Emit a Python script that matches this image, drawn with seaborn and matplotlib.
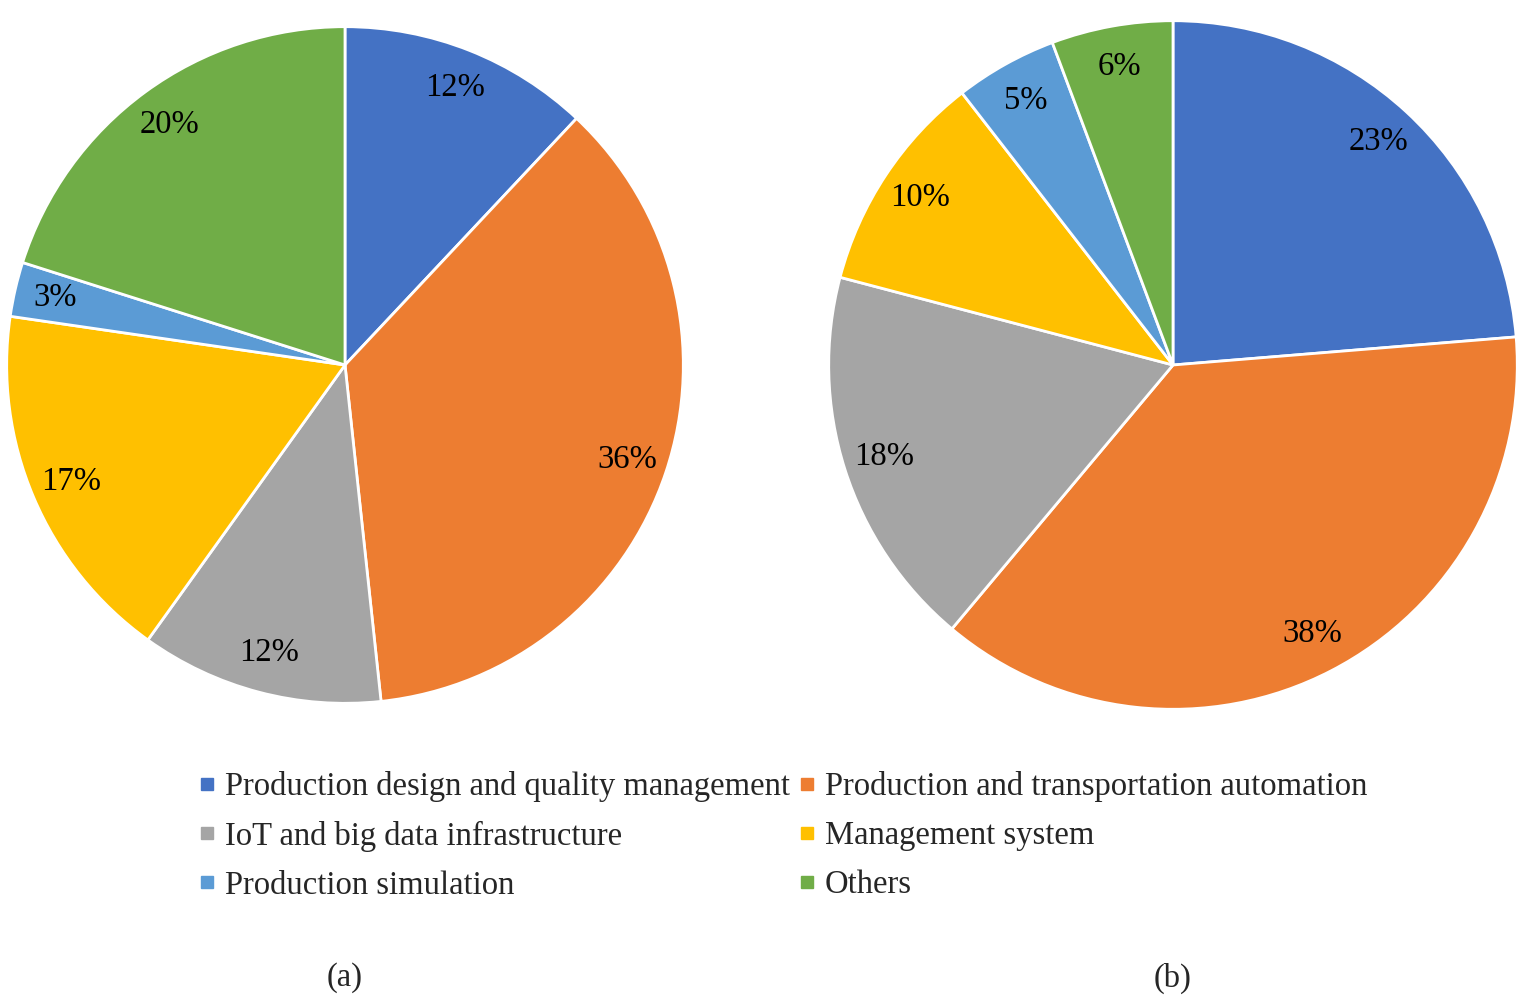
import matplotlib.pyplot as plt
import matplotlib as mpl
import seaborn as sns
from matplotlib.lines import Line2D

categories = ["Production design and quality management",
              "Production and transportation automation",
              "IoT and big data infrastructure",
              "Management system",
              "Production simulation",
              "Others"]
# wedge sizes, labels as printed on the chart
share_a = [12.0, 36.3, 11.6, 17.4, 2.6, 20.1]
share_b = [23.7, 37.4, 18.0, 10.4, 4.8, 5.7]
labels_a = ["12%", "36%", "12%", "17%", "3%", "20%"]
labels_b = ["23%", "38%", "18%", "10%", "5%", "6%"]
captions = ["(a)", "(b)"]

sns.set_theme(style="white")
mpl.rcParams["font.family"] = ["Liberation Serif", "DejaVu Serif"]
mpl.rcParams["font.size"] = 23.5

colors = ["#4472C4", "#ED7D31", "#A5A5A5", "#FFC000", "#5B9BD5", "#70AD47"]

W, H = 1538, 1007
fig = plt.figure(figsize=(W / 100, H / 100), dpi=100)
fig.patch.set_facecolor("white")

# pie centres and radii measured in pixels
pies = [(share_a, labels_a, 345, 365, 340), (share_b, labels_b, 1173, 365, 346)]

for (vals, labs, cx, cy, r), cap in zip(pies, captions):
    ax = fig.add_axes([(cx - r) / W, (H - cy - r) / H, 2 * r / W, 2 * r / H])
    wedges, texts, autotexts = ax.pie(vals, colors=colors, startangle=90, counterclock=False,
                                      autopct="%.0f%%", pctdistance=0.88, radius=1,
                                      wedgeprops=dict(edgecolor="white", linewidth=2))
    for t, lab in zip(autotexts, labs):
        t.set_text(lab)
        t.set_fontsize(23.5)
        t.set_color("black")
    ax.set_xlim(-1.005, 1.005)
    ax.set_ylim(-1.005, 1.005)
    ax.set_aspect("equal")
    ax.axis("off")
    fig.text(cx / W, 1 - 978 / H, cap, ha="center", va="center", fontsize=23.5)

handles = [Line2D([0], [0], marker="s", linestyle="none", markersize=8,
                  markerfacecolor=c, markeredgecolor=c) for c in colors]
order = [0, 2, 4, 1, 3, 5]
fig.legend([handles[i] for i in order], [categories[i] for i in order], ncol=2,
           loc="center", bbox_to_anchor=(783 / W, 1 - 836 / H), frameon=False,
           fontsize=23.5, handlelength=0.5, handletextpad=0.3, columnspacing=0.25,
           labelspacing=0.56, borderaxespad=0)

plt.savefig("out.png", dpi=100, facecolor="white")
